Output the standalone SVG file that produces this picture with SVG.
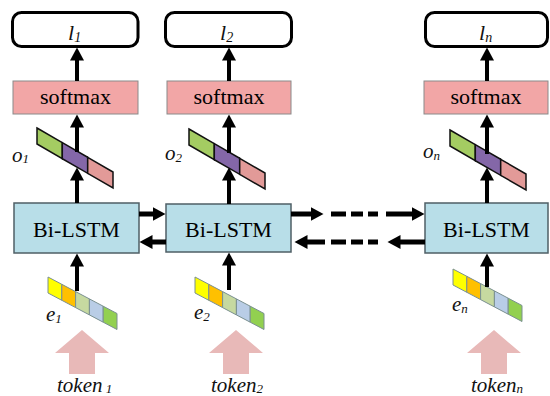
<svg xmlns="http://www.w3.org/2000/svg" xmlns:xlink="http://www.w3.org/1999/xlink" width="550" height="396" viewBox="0 0 550 396">
<style>
.lbox{fill:#fff;stroke:#000;stroke-width:3}
.soft{fill:#f2a6a6;stroke:#8a8a8a;stroke-width:1}
.lstm{fill:#b8dee8;stroke:#4f5f66;stroke-width:1.5}
.t{font-family:"Liberation Serif","Times New Roman",serif;fill:#000}
.it{font-family:"Liberation Serif","Times New Roman",serif;font-style:italic;fill:#111}
.v{stroke:#000;stroke-width:4;fill:none}
.h{stroke:#000;stroke-width:5;fill:none}
.tok{fill:#e8b9b8}
.oc{stroke:#111;stroke-width:1.5}
.ec{stroke:#7a9090;stroke-width:1}
</style>
<defs>
<marker id="ah" markerUnits="userSpaceOnUse" markerWidth="14" markerHeight="14" refX="0.5" refY="7" orient="auto">
<path d="M0,0 L13,7 L0,14 z" fill="#000"/>
</marker>
<g id="ovec">
<polygon class="oc" fill="#a4cc62" points="0,0 25.3,14.7 25.3,30.7 0,16"/>
<polygon class="oc" fill="#8467a8" points="25.3,14.7 50.7,29.3 50.7,45.3 25.3,30.7"/>
<polygon class="oc" fill="#e29a98" points="50.7,29.3 76,44 76,60 50.7,45.3"/>
</g>
<g id="evec">
<polygon class="ec" fill="#ffff00" points="0,0 13.8,7.3 13.8,23.3 0,16"/>
<polygon class="ec" fill="#ffc000" points="13.8,7.3 27.6,14.6 27.6,30.6 13.8,23.3"/>
<polygon class="ec" fill="#c6d9a0" points="27.6,14.6 41.4,21.9 41.4,37.9 27.6,30.6"/>
<polygon class="ec" fill="#b9cde6" points="41.4,21.9 55.2,29.2 55.2,45.2 41.4,37.9"/>
<polygon class="ec" fill="#92d050" points="55.2,29.2 69,36.5 69,52.5 55.2,45.2"/>
</g>
</defs>

<g id="col1">
<g id="l1"><rect class="lbox" x="12.5" y="12.5" width="125.5" height="34" rx="9"/><text class="it" x="68" y="40" font-size="22">l<tspan font-size="14" dy="2">1</tspan></text></g>
<g id="softmax1"><rect class="soft" x="13" y="81" width="125" height="33"/><text class="t" x="75.5" y="104" font-size="22" text-anchor="middle">softmax</text></g>
<g id="o1"><use xlink:href="#ovec" x="37" y="128"/><text class="it" x="12" y="162" font-size="21">o<tspan font-size="13" dy="1">1</tspan></text></g>
<g id="lstm1"><rect class="lstm" x="14" y="203" width="125" height="50"/><text class="t" x="76.5" y="237" font-size="22" text-anchor="middle">Bi-LSTM</text></g>
<g id="e1"><use xlink:href="#evec" x="48" y="277"/><text class="it" x="46" y="321" font-size="21">e<tspan font-size="13" dy="2">1</tspan></text></g>
<g id="token1"><polygon class="tok" points="82,330 109,353 95,353 95,374 69,374 69,353 55,353"/><text class="it" x="57" y="392" font-size="21">token<tspan font-size="13" dy="1"> 1</tspan></text></g>
</g>

<g id="col2">
<g id="l2"><rect class="lbox" x="165.5" y="12.5" width="126" height="34" rx="9"/><text class="it" x="220" y="40" font-size="22">l<tspan font-size="14" dy="2">2</tspan></text></g>
<g id="softmax2"><rect class="soft" x="167" y="81" width="124" height="33"/><text class="t" x="229" y="104" font-size="22" text-anchor="middle">softmax</text></g>
<g id="o2"><use xlink:href="#ovec" x="189" y="129"/><text class="it" x="165" y="160" font-size="21">o<tspan font-size="13" dy="2">2</tspan></text></g>
<g id="lstm2"><rect class="lstm" x="166" y="204" width="125" height="48"/><text class="t" x="228.5" y="237" font-size="22" text-anchor="middle">Bi-LSTM</text></g>
<g id="e2"><use xlink:href="#evec" x="195" y="277"/><text class="it" x="194" y="319" font-size="21">e<tspan font-size="13" dy="2">2</tspan></text></g>
<g id="token2"><polygon class="tok" points="236,330 263,353 249,353 249,374 223,374 223,353 209,353"/><text class="it" x="211" y="392" font-size="21">token<tspan font-size="13" dy="1">2</tspan></text></g>
</g>

<g id="coln">
<g id="ln"><rect class="lbox" x="425.5" y="12.5" width="122" height="34" rx="9"/><text class="it" x="479" y="40" font-size="22">l<tspan font-size="14" dy="2">n</tspan></text></g>
<g id="softmaxn"><rect class="soft" x="424" y="81" width="124" height="33"/><text class="t" x="486" y="104" font-size="22" text-anchor="middle">softmax</text></g>
<g id="on"><use xlink:href="#ovec" x="450" y="130"/><text class="it" x="423" y="158" font-size="21">o<tspan font-size="13" dy="2">n</tspan></text></g>
<g id="lstmn"><rect class="lstm" x="425" y="203" width="123" height="50"/><text class="t" x="486.5" y="237" font-size="22" text-anchor="middle">Bi-LSTM</text></g>
<g id="en"><use xlink:href="#evec" x="453" y="269"/><text class="it" x="452" y="311" font-size="21">e<tspan font-size="13" dy="2">n</tspan></text></g>
<g id="tokenn"><polygon class="tok" points="494,330 521,353 507,353 507,374 481,374 481,353 467,353"/><text class="it" x="471" y="392" font-size="21">token<tspan font-size="13" dy="1">n</tspan></text></g>
</g>

<g id="connectors">
<line class="v" x1="77" y1="152" x2="77" y2="127" marker-end="url(#ah)"/>
<line class="v" x1="77" y1="81" x2="77" y2="60" marker-end="url(#ah)"/>
<line class="v" x1="77" y1="203" x2="77" y2="180" marker-end="url(#ah)"/>
<line class="v" x1="77" y1="291" x2="77" y2="266" marker-end="url(#ah)"/>

<line class="v" x1="229" y1="81" x2="229" y2="60" marker-end="url(#ah)"/>
<line class="v" x1="229" y1="153" x2="229" y2="127" marker-end="url(#ah)"/>
<line class="v" x1="229" y1="204" x2="229" y2="180" marker-end="url(#ah)"/>
<line class="v" x1="229" y1="290" x2="229" y2="265" marker-end="url(#ah)"/>

<line class="v" x1="487" y1="81" x2="487" y2="60" marker-end="url(#ah)"/>
<line class="v" x1="487" y1="154" x2="487" y2="127" marker-end="url(#ah)"/>
<line class="v" x1="487" y1="203" x2="487" y2="180" marker-end="url(#ah)"/>
<line class="v" x1="487" y1="287" x2="487" y2="266" marker-end="url(#ah)"/>

<line class="h" x1="139" y1="214" x2="153" y2="214" marker-end="url(#ah)"/>
<line class="h" x1="166" y1="242" x2="152" y2="242" marker-end="url(#ah)"/>

<line class="h" x1="291" y1="214" x2="311" y2="214" marker-end="url(#ah)"/>
<line class="h" x1="331" y1="214" x2="346" y2="214"/>
<line class="h" x1="351" y1="214" x2="363" y2="214"/>
<line class="h" x1="368" y1="214" x2="378" y2="214"/>
<line class="h" x1="386" y1="214" x2="412" y2="214" marker-end="url(#ah)"/>

<line class="h" x1="425" y1="242" x2="400" y2="242" marker-end="url(#ah)"/>
<line class="h" x1="368" y1="242" x2="378" y2="242"/>
<line class="h" x1="351" y1="242" x2="363" y2="242"/>
<line class="h" x1="331" y1="242" x2="346" y2="242"/>
<line class="h" x1="325" y1="242" x2="307" y2="242" marker-end="url(#ah)"/>
</g>
</svg>
